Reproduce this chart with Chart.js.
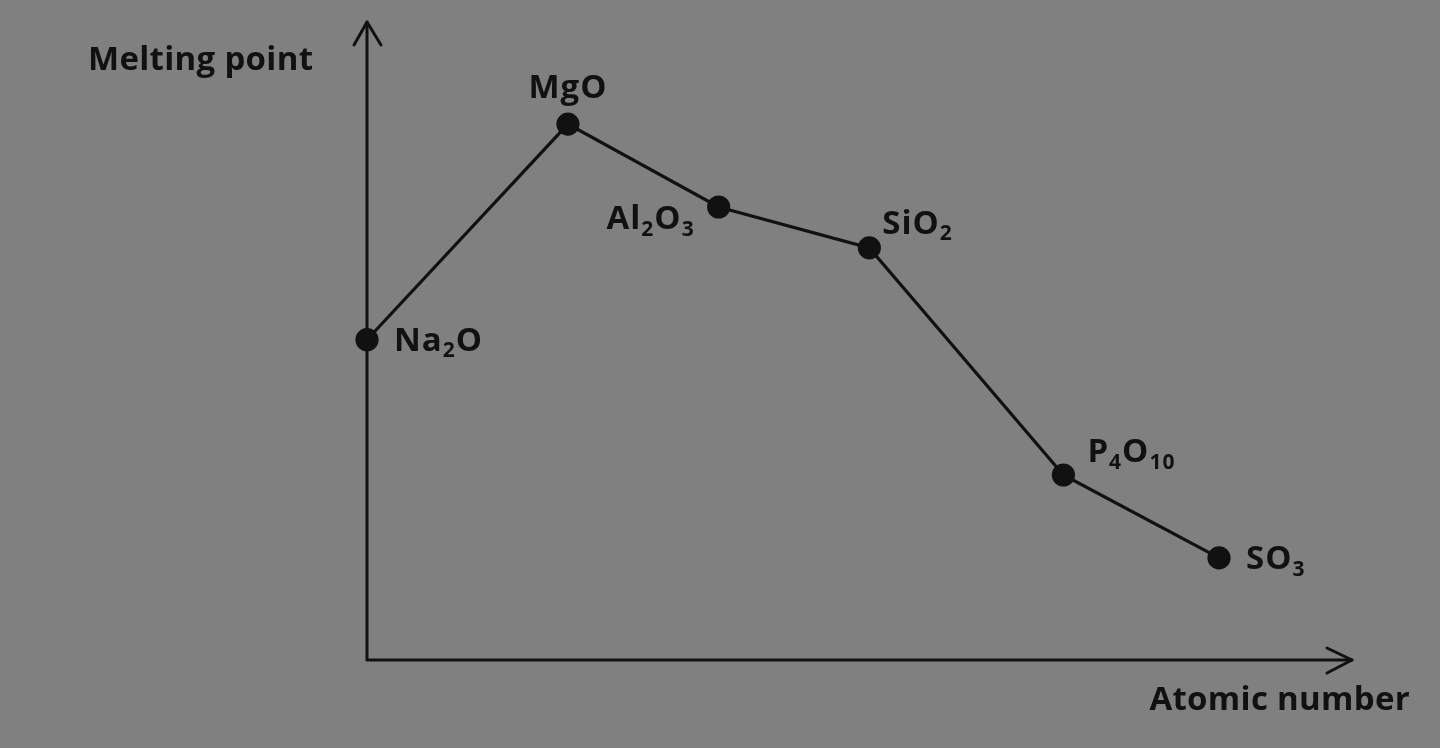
<!DOCTYPE html>
<html>
<head>
<meta charset="utf-8">
<script src="https://cdn.jsdelivr.net/npm/chart.js@4/dist/chart.umd.min.js"></script>
<style>
  html, body { margin: 0; padding: 0; background: #808080; }
  #wrap { width: 1440px; height: 748px; }
</style>
</head>
<body>
<div id="wrap"><canvas id="grafica"></canvas></div>
<script>
// oxides of period 3, relative melting point (no units on the original)
const oxidos = ['Na2O', 'MgO', 'Al2O3', 'SiO2', 'P4O10', 'SO3'];
const posicion_x = [0, 2.04, 3.57, 5.1, 7.07, 8.65];
const punto_fusion = [50.2, 84.0, 71.0, 64.6, 29.0, 16.0];

const titulo_y = 'Melting point';
const titulo_x = 'Atomic number';

// where each label sits relative to its point
const etiqueta_pos = ['right', 'top', 'left', 'topright', 'topright2', 'right'];

const fuente = '"Open Sans", "Lato", sans-serif';
const tinta = '#111111';

// draw "Al2O3" with the digits as subscripts
function textoQuimico(ctx, txt, x, y, size, align) {
  const partes = txt.match(/[A-Za-z]+|\d+/g);
  const subSize = Math.round(size * 0.64);
  ctx.letterSpacing = '1px';
  let ancho = 0;
  const medidas = partes.map(p => {
    const sub = /\d/.test(p);
    ctx.font = 'bold ' + (sub ? subSize : size) + 'px ' + fuente;
    const w = ctx.measureText(p).width;
    ancho += w;
    return { p, sub, w };
  });
  let cx = x;
  if (align === 'center') cx = x - ancho / 2;
  if (align === 'right') cx = x - ancho;
  ctx.textAlign = 'left';
  ctx.textBaseline = 'alphabetic';
  medidas.forEach(m => {
    ctx.font = 'bold ' + (m.sub ? subSize : size) + 'px ' + fuente;
    ctx.fillText(m.p, cx, m.sub ? y + size * 0.2 : y);
    cx += m.w;
  });
}

const ejesFlechas = {
  id: 'ejesFlechas',
  beforeDatasetsDraw(chart) {
    const { ctx, chartArea: a } = chart;
    ctx.save();
    ctx.strokeStyle = tinta;
    ctx.lineWidth = 3;
    ctx.lineCap = 'round';
    ctx.lineJoin = 'round';
    ctx.beginPath();
    ctx.moveTo(a.left, a.top);
    ctx.lineTo(a.left, a.bottom);
    ctx.lineTo(a.right, a.bottom);
    ctx.stroke();
    // arrow heads
    ctx.beginPath();
    ctx.moveTo(a.left - 13, a.top + 23);
    ctx.lineTo(a.left, a.top);
    ctx.lineTo(a.left + 14, a.top + 23);
    ctx.moveTo(a.right - 25, a.bottom - 12);
    ctx.lineTo(a.right, a.bottom);
    ctx.lineTo(a.right - 25, a.bottom + 13);
    ctx.stroke();

    ctx.fillStyle = tinta;
    ctx.font = 'bold 33px ' + fuente;
    ctx.letterSpacing = '0.3px';
    ctx.textBaseline = 'alphabetic';
    ctx.textAlign = 'left';
    ctx.fillText(titulo_y, 88, 70);
    ctx.textAlign = 'right';
    ctx.fillText(titulo_x, 1410, 710);
    ctx.restore();
  },
  afterDatasetsDraw(chart) {
    const { ctx } = chart;
    const meta = chart.getDatasetMeta(0);
    ctx.save();
    ctx.fillStyle = tinta;
    meta.data.forEach((pt, i) => {
      const s = 33;
      const pos = etiqueta_pos[i];
      if (pos === 'right') textoQuimico(ctx, oxidos[i], pt.x + 27, pt.y + 11, s, 'left');
      if (pos === 'top') textoQuimico(ctx, oxidos[i], pt.x, pt.y - 26, s, 'center');
      if (pos === 'left') textoQuimico(ctx, oxidos[i], pt.x - 24, pt.y + 22, s, 'right');
      if (pos === 'topright') textoQuimico(ctx, oxidos[i], pt.x + 13, pt.y - 14, s, 'left');
      if (pos === 'topright2') textoQuimico(ctx, oxidos[i], pt.x + 24, pt.y - 13, s, 'left');
    });
    ctx.restore();
  }
};

const ctx1 = document.getElementById('grafica').getContext('2d');

new Chart(ctx1, {
  type: 'line',
  data: {
    datasets: [
      {
        label: titulo_y,
        data: posicion_x.map((x, i) => ({ x: x, y: punto_fusion[i] })),
        borderColor: tinta,
        backgroundColor: tinta,
        borderWidth: 3.2,
        pointRadius: 10,
        pointHoverRadius: 10,
        tension: 0,
        clip: false,
      }
    ]
  },
  options: {
    responsive: true,
    maintainAspectRatio: false,
    animation: false,
    layout: { padding: { left: 367, right: 88, top: 22, bottom: 88 } },
    plugins: {
      legend: { display: false },
      tooltip: { enabled: false },
    },
    scales: {
      x: { type: 'linear', min: 0, max: 10, display: false },
      y: { min: 0, max: 100, display: false }
    }
  },
  plugins: [ejesFlechas]
});
</script>
</body>
</html>
